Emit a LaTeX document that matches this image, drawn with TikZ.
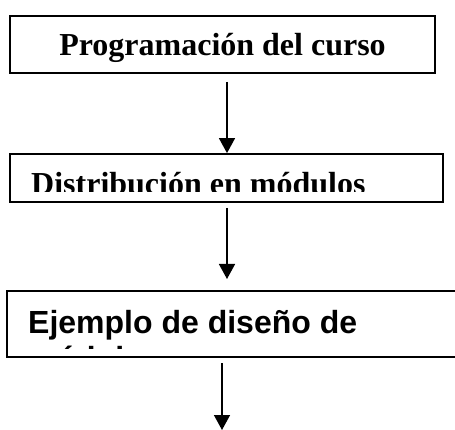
\documentclass[tikz,border=0pt]{standalone}
\usepackage{fontspec}
\setmainfont{Liberation Serif}
\setsansfont{Liberation Sans}
\usetikzlibrary{arrows.meta}

\begin{document}
\begin{tikzpicture}[x=1pt, y=-1pt,
    caja/.style={draw, line width=1.8pt, inner sep=0pt},
    titulo/.style={inner sep=0pt, font=\fontsize{32}{35}\selectfont\bfseries},
    titulosf/.style={inner sep=0pt, align=left, font=\fontsize{32}{36}\selectfont\sffamily\bfseries},
    flecha/.style={line width=1.5pt, -{Triangle[width=16pt,length=15pt]}}]
	\useasboundingbox (0,0) rectangle (455,430);
	% cajas
	\node[caja, minimum width=425pt, minimum height=57pt] (b1) at (222.5,44.5) {};
	\node[caja, minimum width=433pt, minimum height=48pt] (b2) at (226.5,178) {};
	\node[caja, minimum width=463pt, minimum height=66pt] (b3) at (238.5,324) {};
	% textos
	\node[titulo, anchor=base] (t1) at (222.5,56) {Programación del curso};
	\begin{scope}
		\clip (b2.north west) rectangle (443,192);
		\node[titulo, anchor=base west] (t2) at (31,194.5) {Distribución en módulos};
	\end{scope}
	\begin{scope}
		\clip (b3.north west) rectangle (455,348.5);
		\node[titulosf, anchor=base west] (t3) at (28,369) {Ejemplo de diseño de\\módulos};
	\end{scope}
	% flechas
	\coordinate (s1) at (227,82);
	\coordinate (s2) at (227,208);
	\coordinate (e2) at (227,279);
	\coordinate (s3) at (222,363);
	\coordinate (e3) at (222,430);
	\draw[flecha] (s1) -- (s1 |- b2.north);
	\draw[flecha] (s2) -- (e2);
	\draw[flecha] (s3) -- (e3);
\end{tikzpicture}
\end{document}
